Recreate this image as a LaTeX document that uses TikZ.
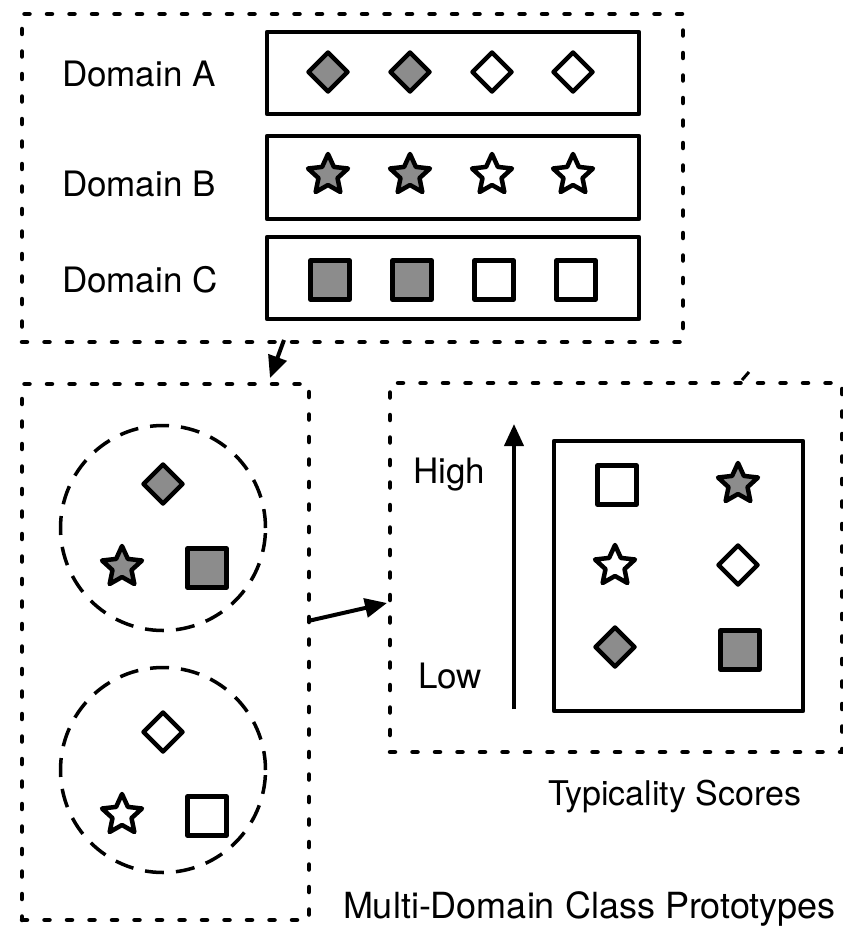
\documentclass[tikz,border=0pt]{standalone}
\usepackage{fontspec}
\setmainfont{TeX Gyre Heros}
\usetikzlibrary{shapes.geometric,arrows.meta}
\definecolor{shade}{RGB}{140,140,140}
\begin{document}
\begin{tikzpicture}[x=1pt,y=-1pt,
  every node/.style={inner sep=0pt,outer sep=0pt},
  lbl/.style={font=\fontsize{35}{42}\selectfont,anchor=base west},
  dotbox/.style={draw,line width=4.5pt,line cap=round,dash pattern=on 5pt off 17.5pt},
  solidbox/.style={draw,line width=4.5pt,line join=round},
  ring/.style={draw,line width=3.5pt,dash pattern=on 19pt off 12pt},
  dia/.style={draw,diamond,line width=4.5pt,line join=round,minimum width=39pt,minimum height=39pt,fill=white},
  sq/.style={draw,rectangle,line width=4.5pt,line join=round,minimum size=39pt,fill=white},
  st/.style={draw,star,star points=5,star point ratio=2.1,minimum size=42pt,line width=4.5pt,line join=round,fill=white},
  dark/.style={fill=shade},
  arr/.style={line width=4pt,-{Triangle[length=22pt,width=19pt]}}
]
\useasboundingbox (0,0) rectangle (843,926);

% ---------- domain rows ----------
\node[dotbox,minimum width=661pt,minimum height=328pt] (domains) at (352.5,178) {};

\node[lbl] (labA) at (62,86) {Domain A};
\node[lbl] (labB) at (62,196) {Domain B};
\node[lbl] (labC) at (62,292) {Domain C};

\node[solidbox,minimum width=372pt,minimum height=82pt] (boxA) at (453,73) {};
\node[solidbox,minimum width=372pt,minimum height=83pt] (boxB) at (453,177.5) {};
\node[solidbox,minimum width=372pt,minimum height=82pt] (boxC) at (453,278) {};

\node[dia,dark] (a1) at (328,72) {};
\node[dia,dark] (a2) at (410,72) {};
\node[dia] (a3) at (492,72) {};
\node[dia] (a4) at (573,72) {};

\node[st,dark] (b1) at (328,175) {};
\node[st,dark] (b2) at (410,175) {};
\node[st] (b3) at (492,175) {};
\node[st] (b4) at (573,175) {};

\node[sq,dark] (c1) at (330,280) {};
\node[sq,dark] (c2) at (412,280) {};
\node[sq] (c3) at (494,280) {};
\node[sq] (c4) at (576,280) {};

% ---------- class prototypes ----------
\node[dotbox,minimum width=287pt,minimum height=536pt] (protos) at (165.5,652) {};

\node[ring,circle,minimum size=205pt] (clsOne) at (163,528) {};
\node[ring,circle,minimum size=205pt] (clsTwo) at (163,770) {};

\node[dia,dark] (p1) at (163,484) {};
\node[st,dark] (p2) at (122,567) {};
\node[sq,dark] (p3) at (207,568) {};

\node[dia] (q1) at (163,732) {};
\node[st] (q2) at (122,815) {};
\node[sq] (q3) at (207,816) {};

\node[lbl,font=\fontsize{36}{43}\selectfont] (protoLbl) at (343,918) {Multi-Domain Class Prototypes};

% ---------- typicality scores ----------
\node[dotbox,minimum width=452pt,minimum height=369pt] (scores) at (616,567.5) {};

\node[solidbox,minimum width=249pt,minimum height=270pt] (grid) at (678.5,576) {};

\node[sq] (r1) at (617,485) {};
\node[st,dark] (r2) at (738,484) {};
\node[st] (r3) at (615,566) {};
\node[dia] (r4) at (738,565) {};
\node[dia,dark] (r5) at (615,647) {};
\node[sq,dark] (r6) at (740,650) {};

\node[lbl] (high) at (413,483) {High};
\node[lbl] (low) at (418,688) {Low};
\coordinate (axisLow) at (514,709);
\coordinate (axisHigh) at (514,424);
\draw[arr] (axisLow) -- (axisHigh);

\node[lbl,font=\fontsize{34}{40}\selectfont] (scoreLbl) at (548,805) {Typicality Scores};

% ---------- connectors ----------
\coordinate (downFrom) at (284,340);
\coordinate (downTo) at (270,378);
\draw[arr] (downFrom) -- (downTo);

\coordinate (rightFrom) at (308,621);
\coordinate (rightTo) at (387,603);
\draw[arr] (rightFrom) -- (rightTo);

\coordinate (stubA) at (742,380);
\coordinate (stubB) at (749,372);
\draw[line width=3pt] (stubA) -- (stubB);
\end{tikzpicture}
\end{document}
